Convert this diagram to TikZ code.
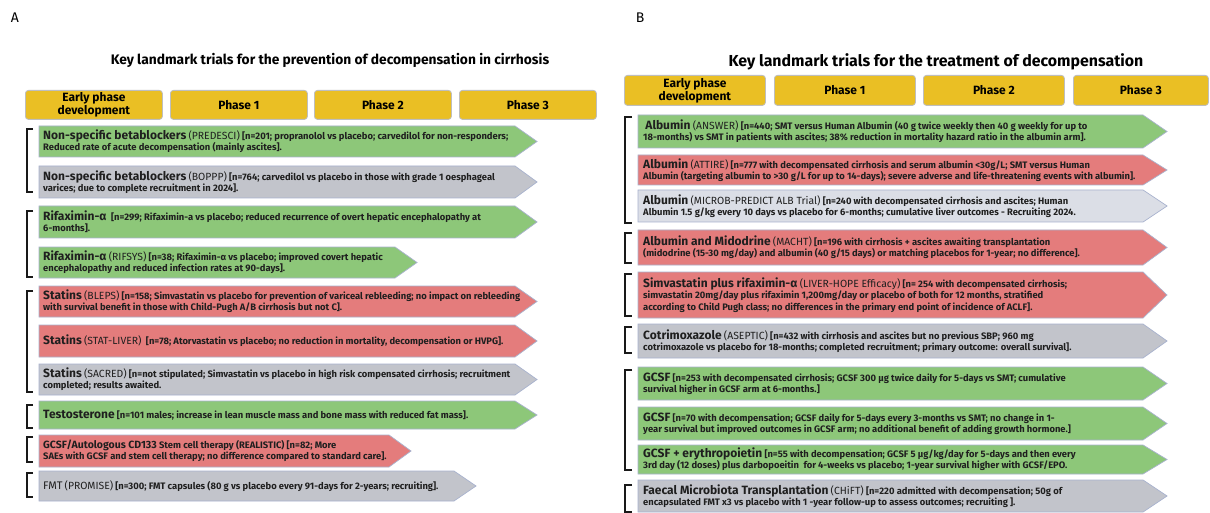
\documentclass[tikz,border=0pt]{standalone}
\usepackage{fontspec}
\setmainfont{Fira Sans}
\usepackage{tikz}
\usetikzlibrary{positioning}

\definecolor{phaseyellow}{RGB}{234,191,36}
\definecolor{phaseedge}{RGB}{190,190,190}
\definecolor{trialgreen}{RGB}{141,199,121}
\definecolor{trialred}{RGB}{228,124,124}
\definecolor{trialgrey}{RGB}{194,196,203}
\definecolor{triallight}{RGB}{219,222,230}
\definecolor{trialedge}{RGB}{168,178,206}

\newcommand\trialname[1]{{\fontsize{12}{12}\selectfont\bfseries #1}}
\newcommand\trialcode[1]{{\fontsize{10.4}{11}\selectfont\mdseries #1}}

\tikzset{
    arrowbox/.style={draw=trialedge, line width=0.7pt},
    trialtext/.style={anchor=west, align=left, inner sep=0pt, text=black!88,
        font=\fontsize{9.4}{11.3}\selectfont\bfseries},
    phasebox/.style={draw=phaseedge, fill=phaseyellow, rounded corners=3pt, line width=0.8pt,
        anchor=north west, align=center, inner sep=0pt, minimum height=29pt,
        font=\fontsize{12}{13}\selectfont\bfseries},
    bracket/.style={line width=1.6pt, black!90},
}

\begin{document}
\begin{tikzpicture}[x=1pt, y=-1pt]

    \useasboundingbox[fill=white] (0,0) rectangle (1210,513);

    % panel A
    \node[font=\fontsize{14}{14}\selectfont] (labelA) at (15,18) {A};
    \node[font=\fontsize{13.8}{14}\selectfont\bfseries] (titleA) at (330,60) {Key landmark trials for the prevention of decompensation in cirrhosis};

    \node[phasebox, minimum width=137pt] (earlyA) at (25,90) {Early phase\\development};
    \node[phasebox, minimum width=137pt] (oneA) at (170,90) {Phase 1};
    \node[phasebox, minimum width=137pt] (twoA) at (314,90) {Phase 2};
    \node[phasebox, minimum width=137pt] (threeA) at (459,90) {Phase 3};

    \filldraw[arrowbox, fill=trialgreen] (39,126) -- (515,126) -- (537,141.5) -- (515,157) -- (39,157) -- cycle;
    \node[trialtext] (predesci) at (43,141.5) {\trialname{Non-specific betablockers} \trialcode{(PREDESCI)} [n=201; propranolol vs placebo; carvedilol for non-responders;\\Reduced rate of acute decompensation (mainly ascites].};

    \filldraw[arrowbox, fill=trialgrey] (39,166) -- (515,166) -- (537,182) -- (515,198) -- (39,198) -- cycle;
    \node[trialtext] (boppp) at (43,182) {\trialname{Non-specific betablockers} \trialcode{(BOPPP)} [n=764; carvedilol vs placebo in those with grade 1 oesphageal\\varices; due to complete recruitment in 2024].};

    \filldraw[arrowbox, fill=trialgreen] (39,206) -- (515,206) -- (537,222) -- (515,238) -- (39,238) -- cycle;
    \node[trialtext] (rifax) at (43,222) {\trialname{Rifaximin-α} \ [n=299; Rifaximin-a vs placebo; reduced recurrence of overt hepatic encephalopathy at\\6-months].};

    \filldraw[arrowbox, fill=trialgreen] (39,247) -- (395,247) -- (417,262.5) -- (395,278) -- (39,278) -- cycle;
    \node[trialtext] (rifsys) at (43,262.5) {\trialname{Rifaximin-α} \trialcode{(RIFSYS)} [n=38; Rifaximin-α vs placebo; improved covert hepatic\\encephalopathy and reduced infection rates at 90-days].};

    \filldraw[arrowbox, fill=trialred] (39,286) -- (515,286) -- (537,301.5) -- (515,317) -- (39,317) -- cycle;
    \node[trialtext] (bleps) at (43,301.5) {\trialname{Statins} \trialcode{(BLEPS)} [n=158; Simvastatin vs placebo for prevention of variceal rebleeding; no impact on rebleeding\\with survival benefit in those with Child-Pugh A/B cirrhosis but not C].};

    \filldraw[arrowbox, fill=trialred] (39,325) -- (515,325) -- (537,341) -- (515,357) -- (39,357) -- cycle;
    \node[trialtext] (statliver) at (43,341) {\trialname{Statins} \trialcode{(STAT-LIVER)} \ [n=78; Atorvastatin vs placebo; no reduction in mortality, decompensation or HVPG].};

    \filldraw[arrowbox, fill=trialgrey] (39,364) -- (515,364) -- (537,379.5) -- (515,395) -- (39,395) -- cycle;
    \node[trialtext] (sacred) at (43,379.5) {\trialname{Statins} \trialcode{(SACRED)} [n=not stipulated; Simvastatin vs placebo in high risk compensated cirrhosis; recruitment\\completed; results awaited.};

    \filldraw[arrowbox, fill=trialgreen] (39,401) -- (515,401) -- (537,415) -- (515,429) -- (39,429) -- cycle;
    \node[trialtext] (testo) at (43,415) {\trialname{Testosterone} [n=101 males; increase in lean muscle mass and bone mass with reduced fat mass].};

    \filldraw[arrowbox, fill=trialred] (39,435) -- (389,435) -- (411,451) -- (389,467) -- (39,467) -- cycle;
    \node[trialtext] (realistic) at (43,451) {{\fontsize{10.5}{11}\selectfont GCSF/Autologous CD133} Stem cell therapy (REALISTIC) [n=82; More\\SAEs with GCSF and stem cell therapy; no difference compared to standard care].};

    \filldraw[arrowbox, fill=trialgrey] (39,471) -- (454,471) -- (476,486) -- (454,501) -- (39,501) -- cycle;
    \node[trialtext] (promise) at (43,486) {{\fontsize{11}{11}\selectfont\mdseries FMT} \trialcode{(PROMISE)} [n=300; FMT capsules (80 g vs placebo every 91-days for 2-years; recruiting].};

    \draw[bracket] (33,129) -| (27,192) -- (33,192);
    \draw[bracket] (33,211) -| (27,277) -- (33,277);
    \draw[bracket] (33,291) -| (27,392) -- (33,392);
    \draw[bracket] (33,405) -| (27,428) -- (33,428);
    \draw[bracket] (33,437) -| (27,462) -- (33,462);
    \draw[bracket] (33,473) -| (27,497) -- (33,497);

    % panel B
    \node[font=\fontsize{14}{14}\selectfont] (labelB) at (640,18) {B};
    \node[font=\fontsize{15.9}{16}\selectfont\bfseries] (titleB) at (936,62) {Key landmark trials for the treatment of decompensation};

    \node[phasebox, minimum width=141pt, minimum height=30pt] (earlyB) at (624,75) {Early phase\\development};
    \node[phasebox, minimum width=141pt, minimum height=30pt] (oneB) at (774,75) {Phase 1};
    \node[phasebox, minimum width=141pt, minimum height=30pt] (twoB) at (923,75) {Phase 2};
    \node[phasebox, minimum width=135pt, minimum height=30pt] (threeB) at (1073,75) {Phase 3};

    \filldraw[arrowbox, fill=trialgreen] (638,115) -- (1143,115) -- (1167,131.5) -- (1143,148) -- (638,148) -- cycle;
    \node[trialtext] (answer) at (643,131.5) {\ \trialname{Albumin} \trialcode{(ANSWER)} [n=440; SMT versus Human Albumin (40 g twice weekly then 40 g weekly for up to\\18-months) vs SMT in patients with ascites; 38\% reduction in mortality hazard ratio in the albumin arm].};

    \filldraw[arrowbox, fill=trialred] (638,155) -- (1143,155) -- (1167,170) -- (1143,185) -- (638,185) -- cycle;
    \node[trialtext] (attire) at (643,170) {\trialname{Albumin} \trialcode{(ATTIRE)} [n=777 with decompensated cirrhosis and serum albumin <30g/L; SMT versus Human\\Albumin (targeting albumin to >30 g/L for up to 14-days); severe adverse and life-threatening events with albumin].};

    \filldraw[arrowbox, fill=triallight] (638,190) -- (1143,190) -- (1167,206) -- (1143,222) -- (638,222) -- cycle;
    \node[trialtext] (microb) at (643,206) {\trialname{Albumin} \trialcode{(MICROB-PREDICT ALB Trial)} [n=240 with decompensated cirrhosis and ascites; Human\\Albumin 1.5 g/kg every 10 days vs placebo for 6-months; cumulative liver outcomes - Recruiting 2024.};

    \filldraw[arrowbox, fill=trialred] (638,230) -- (1143,230) -- (1167,247.5) -- (1143,265) -- (638,265) -- cycle;
    \node[trialtext] (macht) at (643,247.5) {\trialname{Albumin and Midodrine} \trialcode{(MACHT)} [n=196 with cirrhosis + ascites awaiting transplantation\\(midodrine (15-30 mg/day) and albumin (40 g/15 days) or matching placebos for 1-year; no difference].};

    \filldraw[arrowbox, fill=trialred] (638,272) -- (1143,272) -- (1167,295) -- (1143,318) -- (638,318) -- cycle;
    \node[trialtext] (liverhope) at (643,295) {\trialname{Simvastatin plus rifaximin-α} \trialcode{(LIVER-HOPE Efficacy)} [n= 254 with decompensated cirrhosis;\\simvastatin 20mg/day plus rifaximin 1,200mg/day or placebo of both for 12 months, stratified\\according to Child Pugh class; no differences in the primary end point of incidence of ACLF].};

    \filldraw[arrowbox, fill=trialgrey] (638,324) -- (1143,324) -- (1167,341) -- (1143,358) -- (638,358) -- cycle;
    \node[trialtext] (aseptic) at (643,341) {\trialname{Cotrimoxazole} \trialcode{(ASEPTIC)} [n=432 with cirrhosis and ascites but no previous SBP; 960 mg\\cotrimoxazole vs placebo for 18-months; completed recruitment; primary outcome: overall survival].};

    \filldraw[arrowbox, fill=trialgreen] (638,367) -- (1143,367) -- (1167,383.5) -- (1143,400) -- (638,400) -- cycle;
    \node[trialtext] (gcsfa) at (643,383.5) {\trialname{GCSF} [n=253 with decompensated cirrhosis; GCSF 300 µg twice daily for 5-days vs SMT; cumulative\\survival higher in GCSF arm at 6-months.]};

    \filldraw[arrowbox, fill=trialgreen] (638,407) -- (1143,407) -- (1167,423.5) -- (1143,440) -- (638,440) -- cycle;
    \node[trialtext] (gcsfb) at (643,423.5) {\trialname{GCSF} [n=70 with decompensation; GCSF daily for 5-days every 3-months vs SMT; no change in 1-\\year survival but improved outcomes in GCSF arm; no additional benefit of adding growth hormone.]};

    \filldraw[arrowbox, fill=trialgreen] (638,445) -- (1143,445) -- (1167,459.5) -- (1143,474) -- (638,474) -- cycle;
    \node[trialtext] (gcsfepo) at (643,459.5) {\trialname{GCSF + erythropoietin} [n=55 with decompensation; GCSF 5 µg/kg/day for 5-days and then every\\3rd day (12 doses) plus darbopoeitin \ for 4-weeks vs placebo; 1-year survival higher with GCSF/EPO.};

    \filldraw[arrowbox, fill=trialgrey] (638,480) -- (1143,480) -- (1167,496) -- (1143,512) -- (638,512) -- cycle;
    \node[trialtext] (chift) at (643,496) {\trialname{Faecal Microbiota Transplantation} \trialcode{(CHiFT)} [n=220 admitted with decompensation; 50g of\\encapsulated FMT x3 vs placebo with 1 -year follow-up to assess outcomes; recruiting ].};

    \draw[bracket] (632,117) -| (625,223) -- (632,223);
    \draw[bracket] (632,233) -| (625,263) -- (632,263);
    \draw[bracket] (632,274) -| (625,316) -- (632,316);
    \draw[bracket] (632,327) -| (625,353) -- (632,353);
    \draw[bracket] (632,370) -| (625,470) -- (632,470);
    \draw[bracket] (632,485) -| (625,512) -- (632,512);

\end{tikzpicture}
\end{document}
